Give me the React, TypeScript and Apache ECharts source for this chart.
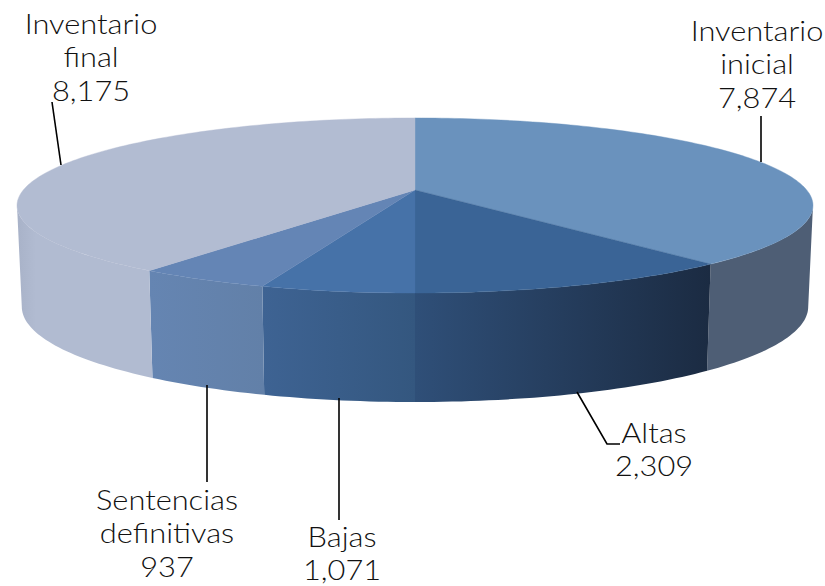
import React, { useEffect, useRef } from "react";
import * as echarts from "echarts";

const categories = ["Inventario inicial", "Altas", "Bajas", "Sentencias definitivas", "Inventario final"];
const values = [7874, 2309, 1071, 937, 8175];
const labelLines = [
  "Inventario\ninicial\n7,874",
  "Altas\n2,309",
  "Bajas\n1,071",
  "Sentencias\ndefinitivas\n937",
  "Inventario\nfinal\n8,175",
];
const topColors = ["#6a92bd", "#3a6496", "#4672a8", "#6485b5", "#b2bcd2"];
const wallColors = [
  ["#4e5e75", "#4e5e75"],
  ["#2f4f78", "#1b2b42"],
  ["#3e6393", "#34577f"],
  ["#6585b2", "#6280a8"],
  ["#a8b2c8", "#b1bbd1"],
];
const wallStops = [1, 1, 1, 1, 0.14];
const labelAnchors = [
  [757, 13],
  [654, 415],
  [342, 519],
  [167, 482],
  [91, 6],
];
const leaders = [
  [[761, 116], [761, 162]],
  [[577, 392], [607, 444], [620, 444]],
  [[339, 398], [339, 520]],
  [[207, 385], [207, 482]],
  [[52, 102], [61, 165]],
];

const CX = 415, CY = 190, RX = 391.7, RY = 84.8, K = 0.177;
const FONT = "Lato";

function topPoint(t: number) {
  const u = Math.sin(t), v = Math.cos(t), w = 1 + K * v;
  return [CX + (RX * u) / w, CY - (RY * v) / w];
}
function bottomPoint(t: number) {
  const p = topPoint(t), v = Math.cos(t);
  return [CX + (p[0] - CX) * 0.988, p[1] + 99.5 - 9.5 * v];
}
function arc(a: number, b: number, f: (t: number) => number[]) {
  const n = Math.max(2, Math.ceil(Math.abs(b - a) / 0.02));
  const out: number[][] = [];
  for (let i = 0; i <= n; i++) out.push(f(a + ((b - a) * i) / n));
  return out;
}

export default function App() {
  const ref = useRef<HTMLDivElement>(null);
  useEffect(() => {
    const chart = echarts.init(ref.current!, undefined, { renderer: "svg" });
    const total = values.reduce((a, b) => a + b, 0);
    const wallStart = Math.acos(-K), wallEnd = 2 * Math.PI - wallStart;
    const renderItem = (_p: any, api: any) => {
      const i = _p.dataIndex;
      const before = values.slice(0, i).reduce((a, b) => a + b, 0);
      const v = api.value(1);
      const a = (before / total) * 2 * Math.PI;
      const b = ((before + v) / total) * 2 * Math.PI;
      const children: any[] = [];
      const wa = Math.max(a, wallStart), wb = Math.min(b, wallEnd);
      if (wb > wa) {
        const pts = [...arc(wa, wb, topPoint), ...arc(wb, wa, bottomPoint)];
        const stops = [
          { offset: 0, color: wallColors[i][0] },
          { offset: wallStops[i], color: wallColors[i][1] },
        ];
        if (wallStops[i] < 1) stops.push({ offset: 1, color: wallColors[i][1] });
        children.push({
          type: "polygon",
          shape: { points: pts },
          style: { fill: new echarts.graphic.LinearGradient(0, 0, 1, 0, stops), stroke: "none" },
        });
      }
      const topPts = [[CX, CY], ...arc(a, b, topPoint)];
      children.push({
        type: "polygon",
        shape: { points: topPts },
        style: { fill: topColors[i], stroke: topColors[i], lineWidth: 0.4 },
      });
      children.push({
        type: "polyline",
        shape: { points: leaders[i] },
        style: { fill: "none", stroke: "#000", lineWidth: 1.6 },
      });
      children.push({
        type: "text",
        x: labelAnchors[i][0],
        y: labelAnchors[i][1],
        scaleX: 1.1,
        style: {
          x: 0,
          y: 0,
          text: labelLines[i],
          align: "center",
          verticalAlign: "top",
          font: `300 28px ${FONT}`,
          lineHeight: 33.5,
          fill: "#111111",
        },
      });
      return { type: "group", children };
    };
    chart.setOption({
      animation: false,
      backgroundColor: "#ffffff",
      series: [
        {
          type: "custom",
          coordinateSystem: "none",
          renderItem,
          data: values.map((v, i) => ({ name: categories[i], value: [i, v] })),
          silent: true,
        },
      ],
    });
    return () => chart.dispose();
  }, []);
  return <div ref={ref} style={{ position: "fixed", left: 0, top: 0, width: 825, height: 586 }} />;
}
